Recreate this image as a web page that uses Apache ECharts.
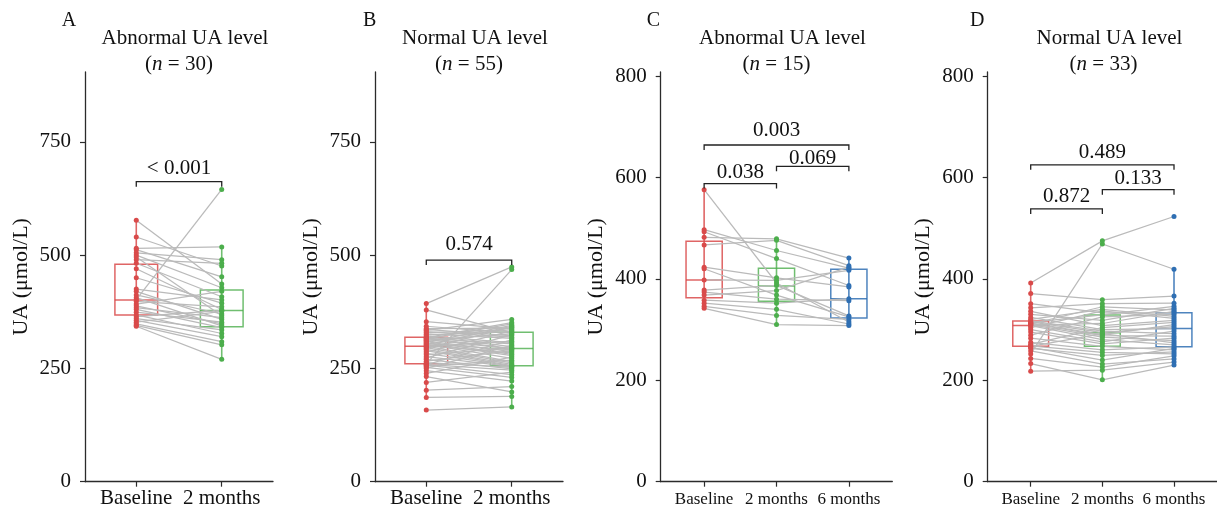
<!DOCTYPE html>
<html>
<head>
<meta charset="utf-8">
<script src="https://cdn.jsdelivr.net/npm/echarts@6/dist/echarts.min.js"></script>
<style>
html,body{margin:0;padding:0;background:#fff;}
#chart{width:1217px;height:512px;}
</style>
</head>
<body>
<div id="chart"></div>
<script>
// ---------------- data ----------------
const catAB = ['Baseline', '2 months'];
const catCD = ['Baseline', '2 months', '6 months'];
const yTicksAB = [0, 250, 500, 750];
const yTicksCD = [0, 200, 400, 600, 800];
const panelLetters = ['A', 'B', 'C', 'D'];
const panelTitles = ['Abnormal UA level', 'Normal UA level', 'Abnormal UA level', 'Normal UA level'];
const panelN = [30, 55, 15, 33];
const yAxisName = 'UA (μmol/L)';

// Panel A (n = 30)
const aBaseline = [577,540,515,512,505,500,496,490,482,470,450,425,420,412,406,402,398,392,388,384,380,374,368,364,360,356,352,348,345,343];
const a2m       = [436,476,518,452,490,428,366,482,408,380,394,401,358,370,344,645,386,420,348,362,340,352,327,378,335,320,376,309,302,270];
// box stats: [whiskerLow, Q1, median, Q3, whiskerHigh]
const aBox = [[343,368,401,480,577],[270,342,378,423,518]];

// Panel B (n = 55)
const bBaseline = [158,186,202,219,232,239,245,250,252,255,257,258,259,260,263,266,270,273,276,280,283,286,289,292,294,296,298,299,300,302,303,305,306,308,309,311,312,314,315,316,317,318,320,322,324,326,329,331,334,336,338,343,353,379,393];
const b2m       = [165,188,210,242,198,275,222,301,230,268,236,313,246,468,252,289,249,324,254,296,255,333,256,259,341,262,310,265,284,343,272,291,278,345,281,287,326,293,348,294,304,351,298,307,331,316,335,319,358,322,339,328,337,329,474];
const bBox = [[186,260,299,318.5,393],[165,256,294,329.5,358]];

// Panel C (n = 15)
const cBaseline = [576,497,493,482,467,423,420,398,378,374,368,358,352,346,342];
const c2m       = [392,456,440,479,476,402,368,397,387,360,377,352,340,328,310];
const c6m       = [315,421,387,441,426,384,325,417,327,357,423,361,311,320,308];
const cBox = [[342,363,398,474,576],[310,356,386,421,479],[308,322.6,361,419,441]];

// Panel D (n = 33)
const dBaseline = [218,233,243,252,258,263,265,267,268,271,275,283,289,295,300,304,308,309,310,311,312,313,314,315,317,320,324,330,336,343,351,371,392];
const d2m       = [220,201,226,469,232,249,240,292,255,304,260,267,325,272,276,337,280,312,285,345,288,290,329,294,297,340,300,318,308,351,333,359,475];
const d6m       = [236,230,248,419,242,256,263,274,252,314,266,260,330,283,297,322,270,336,278,339,287,310,346,306,292,326,302,342,318,352,333,366,523];
const dBox = [[218,267,308,317,392],[201,267,294,329,359],[230,266,302,333,419]];

// significance brackets: [fromTime, toTime, bracketValue, labelBaselineValue]
const aSig = [[1,2,662,676]];
const aSigText = ['< 0.001'];
const bSig = [[1,2,489,507]];
const bSigText = ['0.574'];
const cSig = [[1,3,664,678],[2,3,622,623],[1,2,588,597]];
const cSigText = ['0.003','0.069','0.038'];
const dSig = [[1,3,625,636],[2,3,576,584],[1,2,538,548]];
const dSigText = ['0.489','0.133','0.872'];

// ---------------- styles / layout ----------------
const FONT = "'Liberation Serif', 'Times New Roman', 'DejaVu Serif', serif";
const AX = '#2b2b2b';
const ptColors = ['#d94a4a', '#4cae4c', '#2f6fb3'];
const boxColors = ['rgba(217,74,74,0.85)', 'rgba(76,174,76,0.8)', 'rgba(47,111,179,0.85)'];
const GRAY = '#bababa';

const panels = [
  {grid:{left:85, top:72, width:188, height:409.7}, xMax:2.6, yMax:904, ticks:yTicksAB, cats:catAB, xFont:21,
   times:[aBaseline,a2m], box:aBox, sig:aSig, sigText:aSigText, letterX:61.7},
  {grid:{left:375, top:72, width:188, height:409.7}, xMax:2.6, yMax:904, ticks:yTicksAB, cats:catAB, xFont:21,
   times:[bBaseline,b2m], box:bBox, sig:bSig, sigText:bSigText, letterX:363},
  {grid:{left:660.7, top:72, width:231.6, height:409.7}, xMax:3.6, yMax:808, ticks:yTicksCD, cats:catCD, xFont:17,
   times:[cBaseline,c2m,c6m], box:cBox, sig:cSig, sigText:cSigText, letterX:646.7},
  {grid:{left:987.7, top:72, width:231.6, height:409.7}, xMax:3.6, yMax:808, ticks:yTicksCD, cats:catCD, xFont:17,
   times:[dBaseline,d2m,d6m], box:dBox, sig:dSig, sigText:dSigText, letterX:970}
];

const grids = [], xAxes = [], yAxes = [], series = [], graphics = [];

panels.forEach((p, k) => {
  grids.push(Object.assign({containLabel:false}, p.grid));
  const xTickVals = p.cats.map((c, i) => i + 1);
  xAxes.push({
    type:'value', gridIndex:k, min:0.4, max:p.xMax,
    axisLine:{show:true, onZero:false, lineStyle:{color:AX, width:1.3}},
    axisTick:{show:true, customValues:xTickVals, length:5, lineStyle:{color:AX, width:1.2}},
    axisLabel:{show:true, customValues:xTickVals, formatter:(v) => p.cats[Math.round(v) - 1],
      fontFamily:FONT, fontSize:p.xFont, color:'#111', margin:p.xFont === 21 ? 6 : 9},
    splitLine:{show:false}
  });
  yAxes.push({
    type:'value', gridIndex:k, min:0, max:p.yMax,
    axisLine:{show:true, onZero:false, lineStyle:{color:AX, width:1.3}},
    axisTick:{show:true, customValues:p.ticks, length:5, lineStyle:{color:AX, width:1.2}},
    axisLabel:{show:true, customValues:p.ticks, fontFamily:FONT, fontSize:21, color:'#111', margin:14},
    splitLine:{show:false},
    name:yAxisName, nameLocation:'middle', nameGap:53,
    nameTextStyle:{fontFamily:FONT, fontSize:22, color:'#111'}
  });

  const nT = p.times.length;
  const boxData = p.box.map((b, i) => [i + 1].concat(b));
  // boxes
  series.push({
    type:'custom', xAxisIndex:k, yAxisIndex:k, z:2, silent:true, data:boxData,
    renderItem:(params, api) => {
      const x = api.value(0);
      const c = boxColors[params.dataIndex];
      const tl = api.coord([x - 0.25, api.value(4)]);
      const br = api.coord([x + 0.25, api.value(2)]);
      const md = api.coord([x, api.value(3)]);
      return {type:'group', children:[
        {type:'rect', shape:{x:tl[0], y:tl[1], width:br[0]-tl[0], height:br[1]-tl[1]},
         style:{fill:'none', stroke:c, lineWidth:1.5}},
        {type:'line', shape:{x1:tl[0], y1:md[1], x2:br[0], y2:md[1]}, style:{stroke:c, lineWidth:1.5}}
      ]};
    }
  });
  // subject lines
  const rows = p.times[0].map((v, i) => p.times.map(arr => arr[i]));
  series.push({
    type:'custom', xAxisIndex:k, yAxisIndex:k, z:3, silent:true, data:rows,
    dimensions:p.times.map((a, i) => 't' + i),
    renderItem:(params, api) => {
      const pts = [];
      for (let t = 0; t < nT; t++) pts.push(api.coord([t + 1, api.value(t)]));
      return {type:'polyline', shape:{points:pts}, style:{fill:'none', stroke:GRAY, lineWidth:1.25}};
    }
  });
  // whiskers
  series.push({
    type:'custom', xAxisIndex:k, yAxisIndex:k, z:4, silent:true, data:boxData,
    renderItem:(params, api) => {
      const x = api.value(0);
      const lo = api.coord([x, api.value(1)]);
      const hi = api.coord([x, api.value(5)]);
      return {type:'line', shape:{x1:lo[0], y1:lo[1], x2:hi[0], y2:hi[1]},
        style:{stroke:boxColors[params.dataIndex], lineWidth:1.6}};
    }
  });
  // points
  p.times.forEach((arr, t) => {
    series.push({
      type:'scatter', xAxisIndex:k, yAxisIndex:k, z:5, silent:true,
      symbol:'circle', symbolSize:5, itemStyle:{color:ptColors[t], opacity:1},
      data:arr.map(v => [t + 1, v])
    });
  });
  // brackets
  series.push({
    type:'custom', xAxisIndex:k, yAxisIndex:k, z:6, silent:true, data:p.sig,
    renderItem:(params, api) => {
      const a = api.coord([api.value(0), api.value(2)]);
      const b = api.coord([api.value(1), api.value(2)]);
      const lb = api.coord([(api.value(0) + api.value(1)) / 2, api.value(3)]);
      return {type:'group', children:[
        {type:'polyline', shape:{points:[[a[0], a[1] + 5], [a[0], a[1]], [b[0], b[1]], [b[0], b[1] + 5]]},
         style:{fill:'none', stroke:'#222', lineWidth:1.3}},
        {type:'text', style:{text:p.sigText[params.dataIndex], x:lb[0], y:lb[1] + 3.5,
          align:'center', verticalAlign:'bottom', fontFamily:FONT, fontSize:21, fill:'#111'}}
      ]};
    }
  });

  // titles
  const cx = p.grid.left + p.grid.width / 2;
  graphics.push({type:'text', x:p.letterX, y:11, style:{text:panelLetters[k], align:'left', verticalAlign:'top',
    fontFamily:FONT, fontSize:20, fill:'#111'}});
  graphics.push({type:'text', x:cx + 6, y:28, style:{text:panelTitles[k], align:'center', verticalAlign:'top',
    fontFamily:FONT, fontSize:21, fill:'#111'}});
  graphics.push({type:'text', x:cx, y:54, style:{text:'({i|n} = ' + panelN[k] + ')', align:'center', verticalAlign:'top',
    fontFamily:FONT, fontSize:21, fill:'#111',
    rich:{i:{fontFamily:FONT, fontSize:21, fontStyle:'italic', fill:'#111'}}}});
});

const chart = echarts.init(document.getElementById('chart'), null, {renderer:'canvas'});
chart.setOption({
  animation:false,
  backgroundColor:'#ffffff',
  grid:grids, xAxis:xAxes, yAxis:yAxes, series:series, graphic:graphics
});
</script>
</body>
</html>
